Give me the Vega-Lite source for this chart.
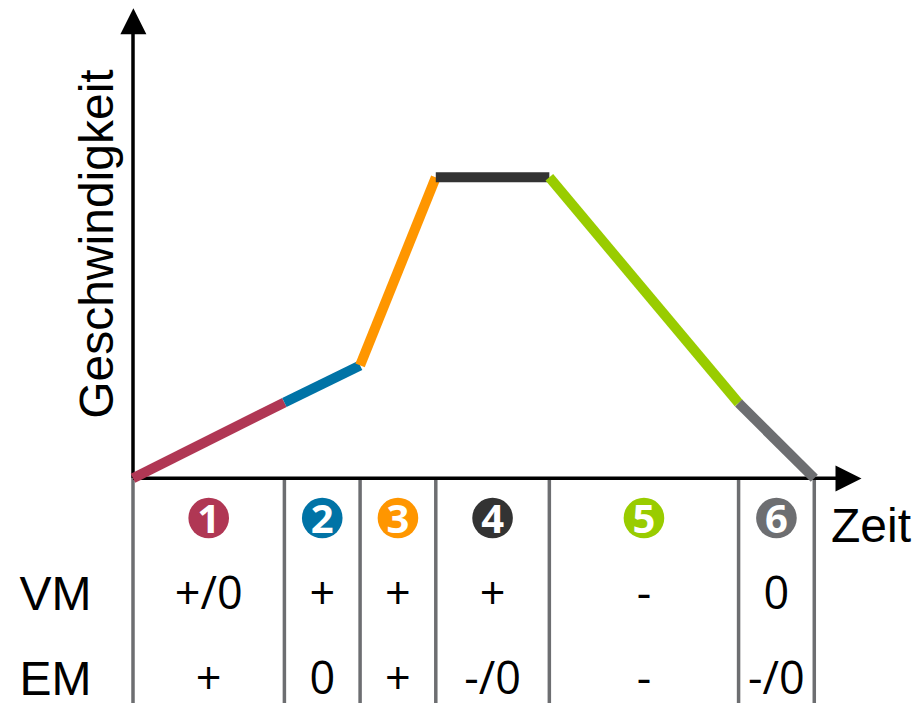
{
  "$schema": "https://vega.github.io/schema/vega-lite/v6.json",
  "width": 917,
  "height": 703,
  "padding": 0,
  "autosize": {"type": "none"},
  "background": "white",
  "config": {"view": {"stroke": null}},
  "datasets": {
    "segments": [
      {"seg": "1", "t": 0, "v": 0, "t2": 20, "v2": 25.2},
      {"seg": "2", "t": 20, "v": 25.2, "t2": 30, "v2": 37.5},
      {"seg": "3", "t": 30, "v": 37.5, "t2": 40, "v2": 100},
      {"seg": "4", "t": 40, "v": 100, "t2": 55, "v2": 100},
      {"seg": "5", "t": 55, "v": 100, "t2": 80, "v2": 25},
      {"seg": "6", "t": 80, "v": 25, "t2": 90, "v2": 0}
    ],
    "dividers": [
      {"t": 0, "v": 0, "v2": -74.65},
      {"t": 20, "v": 0, "v2": -74.65},
      {"t": 30, "v": 0, "v2": -74.65},
      {"t": 40, "v": 0, "v2": -74.65},
      {"t": 55, "v": 0, "v2": -74.65},
      {"t": 80, "v": 0, "v2": -74.65},
      {"t": 90, "v": 0, "v2": -74.65}
    ],
    "axes": [
      {"t": 0, "v": 0, "t2": 0, "v2": 149},
      {"t": 0, "v": 0, "t2": 93, "v2": 0}
    ],
    "arrowUp": [{"t": 0.05, "v": 151.8}],
    "arrowRight": [{"t": 94.52, "v": -0.1}],
    "phases": [
      {"seg": "1", "t": 10, "v": -13.2, "num": "1"},
      {"seg": "2", "t": 25, "v": -13.2, "num": "2"},
      {"seg": "3", "t": 35, "v": -13.2, "num": "3"},
      {"seg": "4", "t": 47.5, "v": -13.2, "num": "4"},
      {"seg": "5", "t": 67.5, "v": -13.2, "num": "5"},
      {"seg": "6", "t": 85, "v": -13.2, "num": "6"}
    ],
    "table": [
      {"row": "VM", "t": 10, "v": -43.3, "label": "+/0"},
      {"row": "VM", "t": 25, "v": -43.3, "label": "+"},
      {"row": "VM", "t": 35, "v": -43.3, "label": "+"},
      {"row": "VM", "t": 47.5, "v": -43.3, "label": "+"},
      {"row": "VM", "t": 67.5, "v": -43.3, "label": "-"},
      {"row": "VM", "t": 85, "v": -43.3, "label": "0"},
      {"row": "EM", "t": 10, "v": -71.8, "label": "+"},
      {"row": "EM", "t": 25, "v": -71.8, "label": "0"},
      {"row": "EM", "t": 35, "v": -71.8, "label": "+"},
      {"row": "EM", "t": 47.5, "v": -71.8, "label": "-/0"},
      {"row": "EM", "t": 67.5, "v": -71.8, "label": "-"},
      {"row": "EM", "t": 85, "v": -71.8, "label": "-/0"}
    ],
    "rowLabels": [
      {"t": -10.25, "v": -43.6, "label": "VM"},
      {"t": -10.25, "v": -72.1, "label": "EM"},
      {"t": 97.5, "v": -21.1, "label": "Zeit"}
    ],
    "yTitle": [{"t": -2.6, "v": 77.8, "label": "Geschwindigkeit"}]
  },
  "encoding": {
    "x": {"field": "t", "type": "quantitative", "scale": {"domain": [-17.57, 103.57], "nice": false, "zero": false}, "axis": null},
    "y": {"field": "v", "type": "quantitative", "scale": {"domain": [-74.65, 158.9], "nice": false, "zero": false}, "axis": null}
  },
  "layer": [
    {
      "data": {"name": "dividers"},
      "mark": {"type": "rule", "color": "#6d6e71", "strokeWidth": 3.5},
      "encoding": {"y2": {"field": "v2"}}
    },
    {
      "data": {"name": "axes"},
      "mark": {"type": "rule", "color": "#000000", "strokeWidth": 3.5},
      "encoding": {"x2": {"field": "t2"}, "y2": {"field": "v2"}}
    },
    {
      "data": {"name": "arrowUp"},
      "mark": {"type": "point", "shape": "M0,-1L1,1L-1,1Z", "filled": true, "color": "#000000", "opacity": 1, "size": 676, "strokeWidth": 0}
    },
    {
      "data": {"name": "arrowRight"},
      "mark": {"type": "point", "shape": "M-1,-1L1,0L-1,1Z", "filled": true, "color": "#000000", "opacity": 1, "size": 676, "strokeWidth": 0}
    },
    {
      "data": {"name": "segments"},
      "mark": {"type": "rule", "strokeWidth": 10, "strokeCap": "butt"},
      "encoding": {
        "x2": {"field": "t2"},
        "y2": {"field": "v2"},
        "color": {"field": "seg", "type": "nominal", "legend": null,
          "scale": {"domain": ["1", "2", "3", "4", "5", "6"], "range": ["#b03754", "#0073a6", "#ff9600", "#333333", "#99cc00", "#6d6e71"]}}
      }
    },
    {
      "data": {"name": "phases"},
      "mark": {"type": "point", "shape": "circle", "filled": true, "opacity": 1, "size": 1650, "strokeWidth": 0},
      "encoding": {
        "color": {"field": "seg", "type": "nominal", "legend": null}
      }
    },
    {
      "data": {"name": "phases"},
      "mark": {"type": "text", "font": "Open Sans", "fontWeight": "bold", "fontSize": 40, "color": "white", "align": "center", "baseline": "alphabetic", "dy": 14.5},
      "encoding": {"text": {"field": "num"}}
    },
    {
      "data": {"name": "table"},
      "mark": {"type": "text", "font": "Open Sans", "fontSize": 45, "color": "#000000", "align": "center", "baseline": "alphabetic"},
      "encoding": {"text": {"field": "label"}}
    },
    {
      "data": {"name": "rowLabels"},
      "mark": {"type": "text", "font": "Liberation Sans", "fontSize": 48, "color": "#000000", "align": "center", "baseline": "alphabetic"},
      "encoding": {"text": {"field": "label"}}
    },
    {
      "data": {"name": "yTitle"},
      "mark": {"type": "text", "font": "Liberation Sans", "fontSize": 48, "color": "#000000", "align": "center", "baseline": "alphabetic", "angle": 270},
      "encoding": {"text": {"field": "label"}}
    }
  ]
}
